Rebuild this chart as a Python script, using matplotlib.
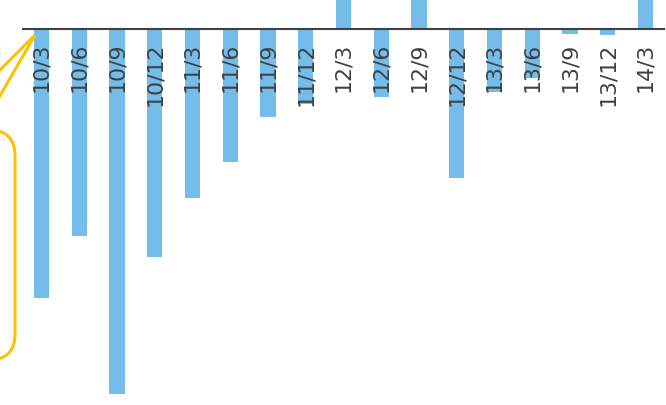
import matplotlib.pyplot as plt
from matplotlib.patches import FancyBboxPatch
from matplotlib.lines import Line2D
from matplotlib.transforms import IdentityTransform

# quarterly changes (yy/m)
quarters = ['10/3', '10/6', '10/9', '10/12', '11/3', '11/6', '11/9', '11/12',
            '12/3', '12/6', '12/9', '12/12', '13/3', '13/6', '13/9', '13/12', '14/3']
values = [-2.69, -2.07, -3.65, -2.28, -1.69, -1.33, -0.88, -0.75,
          0.60, -0.68, 0.60, -1.49, -0.63, -0.49, -0.05, -0.06, 0.60]

bar_color = '#74BCE9'
text_color = '#404040'
callout_color = '#FFC000'

W, H = 666, 405
fig = plt.figure(figsize=(W / 100, H / 100), dpi=100)
ax = fig.add_axes([23 / W, 0, 641 / W, 1])

x = range(len(quarters))
ax.bar(x, values, width=0.4, color=bar_color, zorder=1)

ax.set_xlim(-0.49, len(quarters) - 0.51)
ax.set_ylim(-3.76, 0.29)

for s in ['top', 'right', 'left']:
    ax.spines[s].set_visible(False)
ax.spines['bottom'].set_position(('data', 0))
ax.spines['bottom'].set_color(text_color)
ax.spines['bottom'].set_linewidth(1.5)
ax.set_yticks([])
ax.set_xticks(list(x))
ax.set_xticklabels(quarters, rotation=90, fontsize=15.8, color=text_color)
ax.tick_params(axis='x', length=0, pad=10)

# yellow callout on the left edge (pixel coords, y measured from top)
def px(a, b):
    return a, H - b

box = FancyBboxPatch(px(-80, 360), 95, 230,
                     boxstyle='round,pad=0,rounding_size=26',
                     transform=IdentityTransform(), fill=False,
                     edgecolor=callout_color, linewidth=2.2, clip_on=False)
fig.add_artist(box)
pts = [px(-10, 80), px(35, 35), px(-10, 113)]
fig.add_artist(Line2D([p[0] for p in pts], [p[1] for p in pts],
                      transform=IdentityTransform(), color=callout_color,
                      linewidth=2.2, solid_joinstyle='miter'))

fig.savefig('out.png', dpi=100)
